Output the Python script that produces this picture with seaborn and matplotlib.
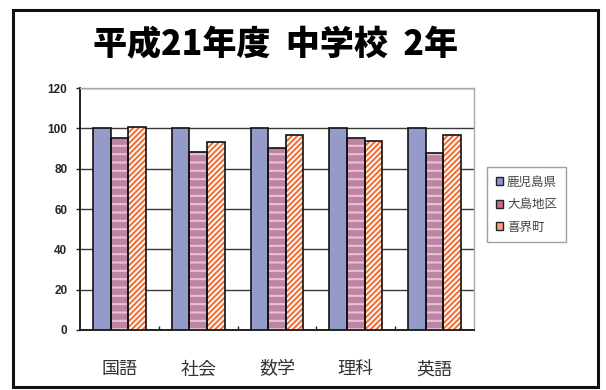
import matplotlib
matplotlib.use("Agg")
import matplotlib.pyplot as plt
import seaborn as sns
import pandas as pd
from matplotlib.patches import Rectangle, Patch
from matplotlib.ticker import FixedLocator

sns.set_theme(style="white")
plt.rcParams['font.family'] = ['Noto Sans CJK JP', 'DejaVu Sans']
plt.rcParams['hatch.linewidth'] = 1.5

subjects = ["国語", "社会", "数学", "理科", "英語"]
series = ["鹿児島県", "大島地区", "喜界町"]
kagoshima = [100, 100, 100, 100, 100]
oshima = [95.1, 88.5, 90.2, 95.1, 87.7]
kikai = [100.9, 93.1, 96.8, 93.8, 96.8]
yticks = [0, 20, 40, 60, 80, 100, 120]
title = "平成21年度  中学校  2年"

colors = {"鹿児島県": "#8C94D2", "大島地区": "#C77AA4", "喜界町": "#FFFFFF"}
hatch_colors = {"鹿児島県": "#8C94D2", "大島地区": "#EAC2D6", "喜界町": "#F07038"}
hatches = {"鹿児島県": None, "大島地区": "--", "喜界町": "//////"}

rows = []
for s, vals in zip(series, [kagoshima, oshima, kikai]):
    for subj, v in zip(subjects, vals):
        rows.append({"教科": subj, "地区": s, "値": v})
df = pd.DataFrame(rows)

fig = plt.figure(figsize=(6.06, 3.90), dpi=100)
ax = fig.add_axes([0.132, 0.154, 0.650, 0.620])

sns.barplot(data=df, x="教科", y="値", hue="地区", hue_order=series,
            order=subjects, palette=colors, width=0.67, ax=ax,
            legend=False, zorder=3)

# style bars per series
for container, s in zip(ax.containers, series):
    for p in container.patches:
        if hatches[s]:
            p.set_hatch(hatches[s])
        p.set_edgecolor(hatch_colors[s])
        p.set_linewidth(0)
        outline = Rectangle(p.get_xy(), p.get_width(), p.get_height(),
                            fill=False, edgecolor="#111111", linewidth=1.2,
                            zorder=4)
        ax.add_patch(outline)

ax.set_ylim(0, 120)
ax.set_xlim(-0.5, len(subjects) - 0.5)
ax.set_yticks(yticks)
ax.set_yticklabels([str(t) for t in yticks], fontweight="bold",
                   fontsize=8.5, family=["Liberation Sans", "DejaVu Sans"])
ax.yaxis.grid(True, color="#3a3a3a", linewidth=1.0, zorder=0)
ax.set_axisbelow(True)
ax.set_xlabel("")
ax.set_ylabel("")
ax.tick_params(axis="x", length=0, pad=22, labelsize=13, labelcolor="#333333")
ax.tick_params(axis="y", length=3, width=1, direction="out", color="#222222",
               left=True, pad=6)
ax.xaxis.set_minor_locator(FixedLocator([0.5, 1.5, 2.5, 3.5]))
ax.tick_params(axis="x", which="minor", bottom=True, direction="in",
               length=3, width=1, color="#222222")

for side in ["top", "right"]:
    ax.spines[side].set_color("#aaaaaa")
    ax.spines[side].set_linewidth(1.0)
for side in ["left", "bottom"]:
    ax.spines[side].set_color("#111111")
    ax.spines[side].set_linewidth(1.3)

# legend
handles = [
    Patch(facecolor="#8C94D2", edgecolor="#222222", label="鹿児島県"),
    Patch(facecolor="#C46A98", edgecolor="#222222", label="大島地区"),
    Patch(facecolor="#F4A080", edgecolor="#222222", label="喜界町"),
]
leg = fig.legend(handles=handles, loc="upper left",
                 bbox_to_anchor=(487 / 606, 1 - 167 / 390),
                 fontsize=9, frameon=True, fancybox=False,
                 handlelength=0.6, handleheight=0.6, handletextpad=0.3,
                 labelspacing=0.75, borderpad=0.7, borderaxespad=0)
leg.get_frame().set_edgecolor("#888888")
leg.get_frame().set_linewidth(1.0)
for t in leg.get_texts():
    t.set_color("#444444")

fig.text(0.455, 1 - 45 / 390, title, ha="center", va="center",
         fontsize=24.5, fontweight="heavy", color="#000000")

# outer frame
fig.patches.append(Rectangle((13 / 606, 1 - 387 / 390), 585 / 606, 377 / 390,
                             transform=fig.transFigure, fill=False,
                             edgecolor="#111111", linewidth=2.2))

fig.savefig("out.png", dpi=100, facecolor="white")
